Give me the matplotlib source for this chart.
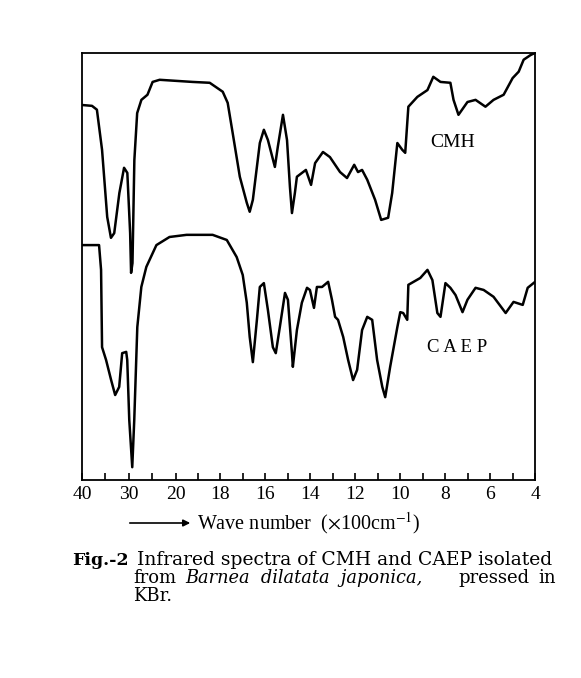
import numpy as np
import matplotlib
matplotlib.use("Agg")
import matplotlib.pyplot as plt

plt.rcParams['font.family'] = ['Liberation Serif', 'DejaVu Serif']
plt.rcParams['mathtext.fontset'] = 'stix'

# wave number (x100 cm-1) and relative transmittance (arbitrary, 0-100)
cmh_w = [40.0, 37.85, 36.8, 35.7, 34.6, 33.8, 33.1, 32.0, 31.0, 30.3, 29.7, 29.5, 29.2,
         28.8, 28.2, 27.3, 26.0, 24.9, 23.4, 19.24, 18.48, 17.90, 17.68, 17.46, 17.14,
         16.83, 16.70, 16.56, 16.25, 16.07, 15.89, 15.58, 15.45, 15.22, 15.04, 14.91,
         14.82, 14.69, 14.60, 14.20, 13.97, 13.79, 13.44, 13.13, 12.68, 12.37, 12.05,
         11.88, 11.70, 11.47, 11.12, 10.85, 10.54, 10.36, 10.13, 9.91, 9.78, 9.64, 9.24,
         8.79, 8.53, 8.21, 7.77, 7.63, 7.41, 7.01, 6.65, 6.21, 5.85, 5.40, 5.0, 4.73,
         4.51, 4.20, 4.0]
cmh_t = [87.8, 87.6, 86.7, 77.3, 61.6, 56.7, 57.8, 67.2, 73.1, 71.9, 57.8, 48.5, 50.8,
         74.9, 85.9, 89.0, 90.2, 93.2, 93.7, 93.2, 93.0, 90.9, 88.3, 81.3, 71.0,
         64.9, 62.8, 65.6, 78.9, 82.0, 79.6, 73.3, 78.0, 85.5, 79.6, 68.6,
         62.5, 67.2, 71.0, 72.6, 69.1, 74.2, 76.8, 75.6, 72.1, 70.7, 73.8,
         72.1, 72.6, 70.3, 65.6, 60.9, 61.4, 67.2, 78.9, 77.3, 76.6, 87.4, 89.7,
         91.3, 94.4, 93.2, 93.0, 89.0, 85.5, 88.5, 89.0, 87.4, 89.0, 90.2, 94.1, 95.6,
         98.4, 99.5, 100.0]

caep_w = [40.0, 36.34, 35.91, 35.70, 34.84, 33.76, 32.90, 32.04, 31.40, 30.54, 30.32,
          29.89, 29.25, 28.82, 28.17, 27.31, 26.24, 24.09, 21.29, 19.51, 18.35, 17.72,
          17.28, 17.01, 16.83, 16.70, 16.56, 16.38, 16.25, 16.07, 15.89, 15.67, 15.54,
          15.36, 15.13, 15.0, 14.82, 14.78, 14.60, 14.38, 14.15, 14.02, 13.84, 13.71,
          13.48, 13.21, 13.04, 12.90, 12.77, 12.54, 12.32, 12.10, 11.92, 11.70, 11.47,
          11.25, 11.03, 10.80, 10.67, 10.45, 10.13, 10.0, 9.87, 9.69, 9.64, 9.11, 8.79,
          8.57, 8.35, 8.21, 7.99, 7.77, 7.54, 7.23, 7.01, 6.65, 6.29, 5.85, 5.31, 4.96,
          4.55, 4.33, 4.0]
caep_t = [55.0, 55.0, 49.2, 31.1, 28.1, 23.4, 19.9, 21.8, 29.7, 30.0, 28.1,
          14.1, 3.0, 14.1, 35.8, 45.2, 49.9, 55.0, 56.9, 57.4, 57.4, 56.2,
          52.2, 48.0, 41.5, 33.5, 27.6, 37.5, 45.2, 46.1, 39.8, 31.1, 29.7,
          35.8, 43.8, 42.2, 29.7, 26.5, 35.1, 41.5, 45.0, 44.5, 40.3, 45.2,
          45.2, 46.4, 42.2, 38.2, 37.5, 33.5, 28.1, 23.4, 25.8, 35.1, 38.2,
          37.5, 28.1, 21.8, 19.4, 26.5, 35.8, 39.3, 39.1, 37.5, 45.7, 47.3, 49.2,
          46.8, 39.1, 38.2, 46.1, 45.0, 43.3, 39.3, 42.2, 45.0, 44.5, 42.9, 39.1, 41.7,
          41.0, 45.0, 46.4]

major_ticks = [40, 30, 20, 18, 16, 14, 12, 10, 8, 6, 4]
minor_ticks = [35, 25, 19, 17, 15, 13, 11, 9, 7, 5]

# grating change at 2000 cm-1: scale is compressed above it
brk_w = [4, 20, 40]
brk_u = [0, 76.8, 96.8]


def forward(w):
    return np.interp(w, brk_w, brk_u)


def inverse(u):
    return np.interp(u, brk_u, brk_w)


fig = plt.figure(figsize=(5.81, 6.78), dpi=100)
ax = fig.add_axes([0.141, 0.292, 0.780, 0.630])
ax.set_xscale('function', functions=(forward, inverse))
ax.plot(cmh_w, cmh_t, color='black', lw=1.8)
ax.plot(caep_w, caep_t, color='black', lw=1.8)
ax.set_xlim(40, 4)
ax.set_ylim(0, 100)
ax.set_yticks([])
ax.set_xticks(major_ticks)
ax.set_xticklabels([str(t) for t in major_ticks], fontsize=14)
ax.set_xticks(minor_ticks, minor=True)
ax.tick_params(axis='x', which='both', direction='in', length=5, width=1.2, pad=4)
for s in ax.spines.values():
    s.set_linewidth(1.3)

ax.text(7.68, 79, 'CMH', fontsize=14, ha='center', va='center')
ax.text(7.46, 31, 'C A E P', fontsize=13.5, ha='center', va='center')

# axis caption with arrow
fig.patches.append(matplotlib.patches.FancyArrowPatch(
    (127 / 581, 1 - 523 / 678), (193 / 581, 1 - 523 / 678), transform=fig.transFigure,
    arrowstyle='-|>', mutation_scale=10, lw=1.2, color='black'))
fig.text(197 / 581, 1 - 523 / 678, 'Wave number  ($\\times$100cm$^{-1}$)', fontsize=14.5,
         ha='left', va='center')

# figure caption
cap = dict(fontsize=13, family='DejaVu Serif', va='baseline')
y1, y2, y3 = 1 - 565 / 678, 1 - 583 / 678, 1 - 601 / 678
fig.text(72 / 581, y1, 'Fig.-2', fontsize=12.5, family='DejaVu Serif', fontweight='bold',
         ha='left', va='baseline')
fig.text(137 / 581, y1, 'Infrared spectra of CMH and CAEP isolated', ha='left',
         fontsize=13.5, family='DejaVu Serif', va='baseline')
fig.text(133 / 581, y2, 'from', ha='left', **cap)
fig.text(185 / 581, y2, 'Barnea  dilatata  japonica,', fontsize=12.8, family='DejaVu Serif',
         fontstyle='italic', ha='left', va='baseline')
fig.text(458 / 581, y2, 'pressed', ha='left', **cap)
fig.text(556 / 581, y2, 'in', ha='right', **cap)
fig.text(133 / 581, y3, 'KBr.', ha='left', **cap)

fig.savefig('out.png', dpi=100)
